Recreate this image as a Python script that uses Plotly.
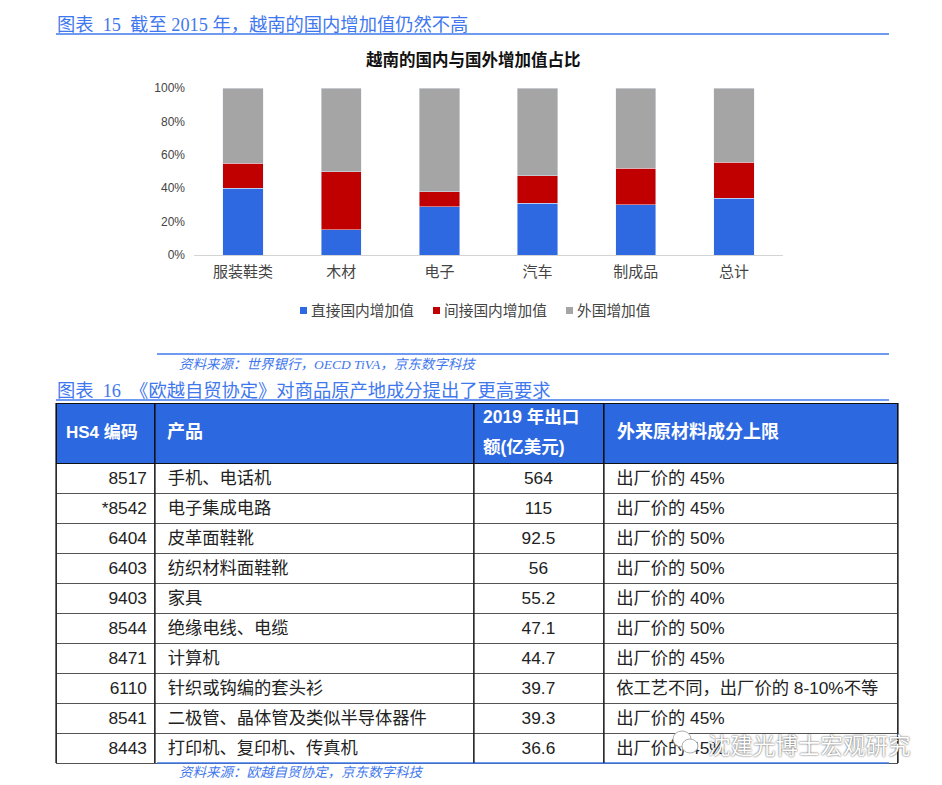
import plotly.graph_objects as go

# the page keeps an 8px body margin, so the figure is the window minus that
W = 934
H = 777
CJK = "Noto Sans CJK SC"
FONT = "Liberation Sans, " + CJK
SERIF = "Liberation Serif, " + CJK
BLUE = "#2c68e0"
LINK = "#3f78ee"

def px(x):
    return (x - 8) / W

def py(y):
    return 1 - (y - 8) / H

def note(text, x, y, size, color, anchor="left", family=SERIF):
    return dict(text=text, x=px(x), y=py(y), xref="paper", yref="paper", xanchor=anchor, yanchor="middle",
                showarrow=False, font=dict(family=family, size=size, color=color))

cats = ["服装鞋类", "木材", "电子", "汽车", "制成品", "总计"]
direct = [40, 15, 29, 31, 30, 34]
indirect = [15, 35, 9, 16.5, 22, 21.5]
foreign = [45, 50, 62, 52.5, 48, 44.5]
series = [("直接国内增加值", direct, "#2e69e2", 300), ("间接国内增加值", indirect, "#c00000", 433), ("外国增加值", foreign, "#a5a5a5", 566)]

codes = ["8517", "*8542", "6404", "6403", "9403", "8544", "8471", "6110", "8541", "8443"]
products = ["手机、电话机", "电子集成电路", "皮革面鞋靴", "纺织材料面鞋靴", "家具", "绝缘电线、电缆",
            "计算机", "针织或钩编的套头衫", "二极管、晶体管及类似半导体器件", "打印机、复印机、传真机"]
exports = ["564", "115", "92.5", "56", "55.2", "47.1", "44.7", "39.7", "39.3", "36.6"]
limits = ["出厂价的 45%", "出厂价的 45%", "出厂价的 50%", "出厂价的 50%", "出厂价的 40%", "出厂价的 50%",
          "出厂价的 45%", "依工艺不同，出厂价的 8-10%不等", "出厂价的 45%", "出厂价的 45%"]

fig = go.Figure()
for name, vals, color, lx in series:
    fig.add_trace(go.Bar(x=cats, y=vals, name=name, marker_color=color))

fig.add_trace(go.Table(
    domain=dict(x=[px(56), px(898)], y=[py(764), py(403)]),
    columnwidth=[99, 319, 130, 294],
    header=dict(
        values=["", "", "", ""],
        fill_color=BLUE,
        line=dict(color="#111111", width=1),
        height=60,
    ),
    cells=dict(
        values=[codes, ["\u00a0" + p for p in products], exports, ["\u00a0" + t for t in limits]],
        fill_color="white",
        line=dict(color="#555555", width=1),
        align=["right", "left", "center", "left"],
        font=dict(family=FONT, size=17.3, color="#222222"),
        height=30,
    ),
))

annotations = [
    note("图表  15  截至 2015 年，越南的国内增加值仍然不高", 55, 25, 18.3, LINK),
    note("<b>越南的国内与国外增加值占比</b>", 473, 61, 16.5, "#111111", "center"),
    note("<i>资料来源：世界银行，OECD TiVA，京东数字科技</i>", 177, 364, 13.5, LINK),
    note("图表  16  《欧越自贸协定》对商品原产地成分提出了更高要求", 55, 391, 18.3, LINK),
    note("<i>资料来源：欧越自贸协定，京东数字科技</i>", 177, 772, 13.5, LINK),
    note("<b>HS4 编码</b>", 64, 432, 17, "white", family=FONT),
    note("<b>产品</b>", 165, 432, 18, "white", family=FONT),
    note("<b>2019 年出口</b>", 481, 417, 17.5, "white", family=FONT),
    note("<b>额(亿美元)</b>", 481, 447, 17.5, "white", family=FONT),
    note("<b>外来原材料成分上限</b>", 615, 432, 18, "white", family=FONT),
]
for name, vals, color, lx in series:
    annotations.append(note(name, lx + 9, 309, 14.7, "#444444", family=CJK))

# watermark on top of the last table row
mark = note("沈建光博士宏观研究", 913, 744, 22.5, "white", "right", CJK)
mark["font"]["shadow"] = "0px 0px 2px #333333"
annotations.append(mark)

shapes = [
    dict(type="line", xref="paper", yref="paper", x0=px(x0), x1=px(889), y0=py(y), y1=py(y),
         line=dict(color=LINK, width=1.3))
    for x0, y in [(56, 34), (157, 354), (56, 400), (157, 763)]
]
shapes += [
    dict(type="line", xref="paper", yref="paper", x0=px(x), x1=px(x), y0=py(403), y1=py(763),
         line=dict(color="#111111", width=1.2))
    for x in [56, 155, 474, 604, 898]
]
shapes += [
    dict(type="rect", xref="paper", yref="paper", x0=px(lx), x1=px(lx + 7), y0=py(314), y1=py(307),
         fillcolor=color, line=dict(width=0))
    for name, vals, color, lx in series
]
shapes += [
    dict(type="circle", xref="paper", yref="paper", x0=px(x0), x1=px(x1), y0=py(y1), y1=py(y0),
         fillcolor="white", line=dict(color="#999999", width=0.8))
    for x0, x1, y0, y1 in [(673, 691, 731, 747), (682, 698, 739, 753)]
]

fig.update_layout(
    width=W,
    height=H,
    margin=dict(l=0, r=0, t=0, b=0, autoexpand=False),
    paper_bgcolor="white",
    plot_bgcolor="white",
    barmode="stack",
    bargap=0.59,
    showlegend=False,
    xaxis=dict(domain=[px(194), px(783)], showgrid=False, showline=True, linecolor="#d4d4d4",
               ticks="", ticklabelstandoff=3, tickfont=dict(family=CJK, size=15, color="#444444")),
    yaxis=dict(domain=[py(255), py(88)], range=[0, 100], tick0=0, dtick=20,
               ticksuffix="%", showgrid=False, zeroline=False, ticklabelstandoff=8,
               tickfont=dict(family="Liberation Sans", size=12, color="#444444")),
    annotations=annotations,
    shapes=shapes,
)

fig.write_html("out.html")
